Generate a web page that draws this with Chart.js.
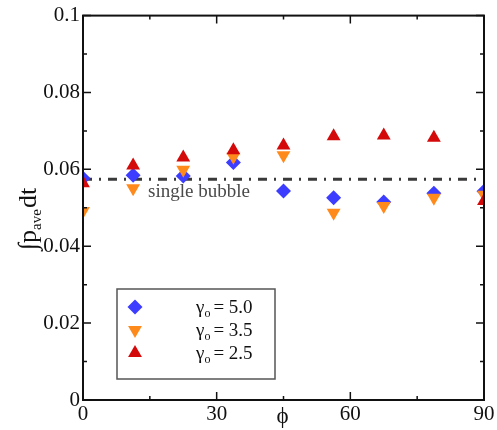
<!DOCTYPE html>
<html><head><meta charset="utf-8">
<script src="https://cdn.jsdelivr.net/npm/chart.js@4"></script>
<style>html,body{margin:0;padding:0;background:#fff}#wrap{width:497px;height:430px}</style>
</head><body><div id="wrap"><canvas id="c" width="497" height="430"></canvas></div>
<script>
// ---- data ----
const phi = [0, 11.25, 22.5, 33.75, 45, 56.25, 67.5, 78.75, 90];
const gamma50 = [0.0577, 0.0585, 0.0583, 0.0618, 0.0544, 0.0526, 0.0515, 0.0538, 0.0543];
const gamma35 = [0.0492, 0.0551, 0.0599, 0.0633, 0.0637, 0.0487, 0.0505, 0.0526, 0.0534];
const gamma25 = [0.0564, 0.0610, 0.0631, 0.0650, 0.0662, 0.0686, 0.0688, 0.0682, 0.0518];
const singleBubble = 0.0574;
const singleBubbleLabel = 'single bubble';
const seriesGammas = ['5.0', '3.5', '2.5'];
const xTickValues = [0, 30, 60, 90];
const xMinorValues = [15, 45, 75];
const yTickValues = [0, 0.02, 0.04, 0.06, 0.08, 0.1];
const yTickLabels = ['0', '0.02', '0.04', '0.06', '0.08', '0.1'];
const yMinorValues = [0.01, 0.03, 0.05, 0.07, 0.09];

const COLORS = ['#3d3dff', '#ff8a1c', '#d40a0a'];
const STYLES = [
  {pointStyle: 'rectRot', radius: 7.5, rotation: 0},
  {pointStyle: 'triangle', radius: 8, rotation: 180},
  {pointStyle: 'triangle', radius: 8, rotation: 0}
];
const SERIF = 'Liberation Serif';
Chart.defaults.font.family = SERIF;

const toPts = arr => phi.map((x, i) => ({x: x, y: arr[i]}));

function mkSet(label, arr, idx, order) {
  return {
    type: 'scatter', label: label, data: toPts(arr), order: order,
    backgroundColor: COLORS[idx], borderColor: COLORS[idx], borderWidth: 0,
    pointStyle: STYLES[idx].pointStyle, pointRadius: STYLES[idx].radius,
    pointRotation: STYLES[idx].rotation, pointHoverRadius: STYLES[idx].radius
  };
}

function drawMarker(ctx, st, color, x, y) {
  ctx.save();
  ctx.fillStyle = color;
  ctx.translate(x, y);
  ctx.rotate(st.rotation * Math.PI / 180);
  const r = st.radius;
  ctx.beginPath();
  if (st.pointStyle === 'rectRot') {
    ctx.moveTo(0, -r); ctx.lineTo(r, 0); ctx.lineTo(0, r); ctx.lineTo(-r, 0);
  } else {
    const a = -Math.PI / 2;
    for (let k = 0; k < 3; k++) {
      const t = a + k * 2 * Math.PI / 3;
      const px = Math.cos(t) * r, py = Math.sin(t) * r;
      if (k === 0) ctx.moveTo(px, py); else ctx.lineTo(px, py);
    }
  }
  ctx.closePath();
  ctx.fill();
  ctx.restore();
}

const decor = {
  id: 'decor',
  afterDatasetsDraw(chart) {
    const ctx = chart.ctx, a = chart.chartArea;
    const xs = chart.scales.x, ys = chart.scales.y;
    ctx.save();
    // frame
    ctx.strokeStyle = '#111'; ctx.lineWidth = 2;
    ctx.strokeRect(a.left, a.top, a.right - a.left, a.bottom - a.top);
    // ticks (inward)
    ctx.lineWidth = 1.5;
    ctx.beginPath();
    const tickX = (v, len) => {
      const px = xs.getPixelForValue(v);
      ctx.moveTo(px, a.bottom); ctx.lineTo(px, a.bottom - len);
      ctx.moveTo(px, a.top); ctx.lineTo(px, a.top + len);
    };
    const tickY = (v, len) => {
      const py = ys.getPixelForValue(v);
      ctx.moveTo(a.left, py); ctx.lineTo(a.left + len, py);
      ctx.moveTo(a.right, py); ctx.lineTo(a.right - len, py);
    };
    xTickValues.forEach(v => tickX(v, 8));
    xMinorValues.forEach(v => tickX(v, 4));
    yTickValues.forEach(v => tickY(v, 8));
    yMinorValues.forEach(v => tickY(v, 4));
    ctx.stroke();

    // single bubble label
    ctx.fillStyle = '#4a4a4a';
    ctx.font = '19px "' + SERIF + '"';
    ctx.textAlign = 'left'; ctx.textBaseline = 'alphabetic';
    ctx.fillText(singleBubbleLabel, xs.getPixelForValue(14.6), ys.getPixelForValue(singleBubble) + 18);

    // x title
    ctx.fillStyle = '#111';
    ctx.font = '23px "' + SERIF + '"';
    ctx.textAlign = 'center'; ctx.textBaseline = 'middle';
    ctx.fillText('\u03D5', (a.left + a.right) / 2 - 1, 417);

    // y title: ∫p_ave dt
    ctx.save();
    ctx.translate(36, 250);
    ctx.rotate(-Math.PI / 2);
    ctx.textAlign = 'left'; ctx.textBaseline = 'alphabetic';
    ctx.font = '26px "' + SERIF + '"';
    let w = 0;
    ctx.fillText('\u222Bp', w, 0); w += ctx.measureText('\u222Bp').width;
    ctx.font = '15px "' + SERIF + '"';
    ctx.fillText('ave', w, 5); w += ctx.measureText('ave').width + 1;
    ctx.font = '26px "' + SERIF + '"';
    ctx.fillText('dt', w, 0);
    ctx.restore();

    // legend
    const lx = 117, ly = 289, lw = 158, lh = 90;
    ctx.fillStyle = '#fff';
    ctx.fillRect(lx, ly, lw, lh);
    ctx.strokeStyle = '#555'; ctx.lineWidth = 1.5;
    ctx.strokeRect(lx, ly, lw, lh);
    const rowY = [307, 330, 353];
    seriesGammas.forEach((g, i) => {
      drawMarker(ctx, STYLES[i], COLORS[i], 135, rowY[i]);
      ctx.fillStyle = '#111';
      ctx.textAlign = 'left'; ctx.textBaseline = 'alphabetic';
      let tx = 196;
      const by = rowY[i] + 6;
      ctx.font = '19px "' + SERIF + '"';
      ctx.fillText('\u03B3', tx, by); tx += ctx.measureText('\u03B3').width;
      ctx.font = '12px "' + SERIF + '"';
      ctx.fillText('o', tx, by + 4); tx += ctx.measureText('o').width + 3;
      ctx.font = '19px "' + SERIF + '"';
      ctx.fillText('= ' + g, tx, by);
    });
    ctx.restore();
  }
};

new Chart(document.getElementById('c'), {
  data: {
    datasets: [
      {
        type: 'line', label: singleBubbleLabel, order: 10,
        data: [{x: 0, y: singleBubble}, {x: 90, y: singleBubble}],
        borderColor: '#3a3a3a', borderWidth: 3, borderDash: [9, 7, 2, 7],
        pointRadius: 0, fill: false
      },
      mkSet('\u03B3o = 5.0', gamma50, 0, 3),
      mkSet('\u03B3o = 3.5', gamma35, 1, 2),
      mkSet('\u03B3o = 2.5', gamma25, 2, 1)
    ]
  },
  options: {
    responsive: false, animation: false, devicePixelRatio: 1,
    layout: {padding: {top: 10, right: 13, left: 0, bottom: 0}},
    plugins: {legend: {display: false}, tooltip: {enabled: false}},
    scales: {
      x: {
        type: 'linear', min: 0, max: 90,
        afterBuildTicks: s => { s.ticks = xTickValues.map(v => ({value: v})); },
        afterFit: s => { s.height = 30; },
        grid: {display: false, drawTicks: false}, border: {display: false},
        ticks: {color: '#111', font: {family: SERIF, size: 21}, padding: 2, maxRotation: 0}
      },
      y: {
        type: 'linear', min: 0, max: 0.1,
        afterBuildTicks: s => { s.ticks = yTickValues.map(v => ({value: v})); },
        afterFit: s => { s.width = 83; },
        grid: {display: false, drawTicks: false}, border: {display: false},
        ticks: {color: '#111', font: {family: SERIF, size: 21}, padding: 3,
          callback: (v, i) => yTickLabels[i]}
      }
    }
  },
  plugins: [decor]
});
</script>
</body></html>
